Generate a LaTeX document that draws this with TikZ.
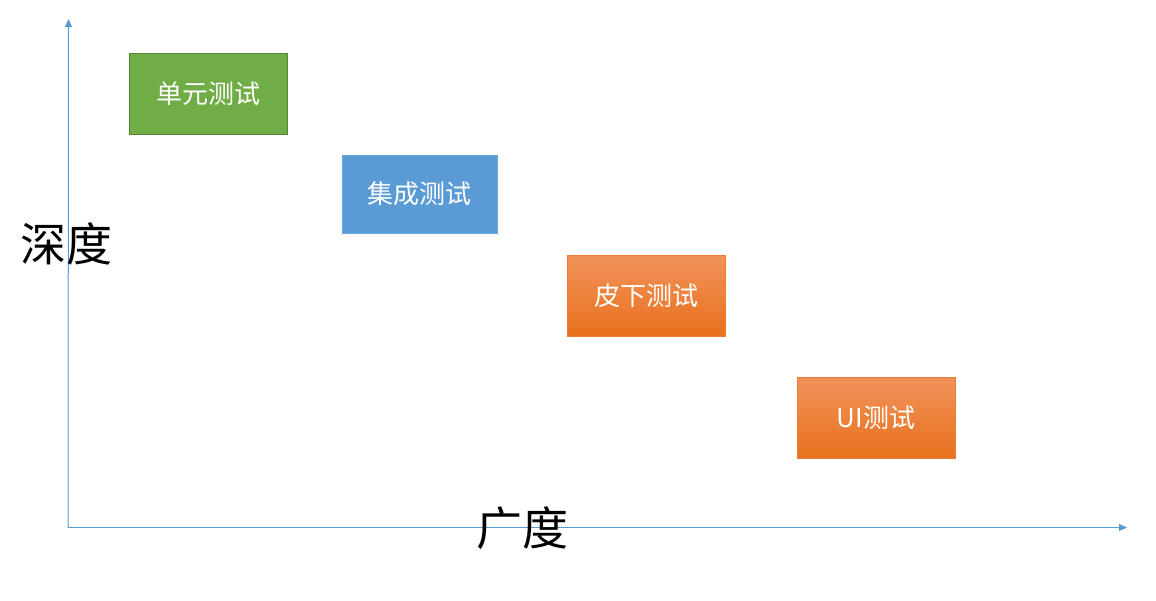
\documentclass[tikz,border=0pt]{standalone}
\usepackage{fontspec}
\newfontfamily\cjk{Noto Sans CJK SC}
\usetikzlibrary{arrows.meta}
\definecolor{axisblue}{HTML}{5B9BD5}
\definecolor{gfill}{HTML}{70AD47}
\definecolor{gborder}{HTML}{548235}
\definecolor{bfill}{HTML}{5B9BD5}
\definecolor{bborder}{HTML}{6FA8DC}
\definecolor{otop}{HTML}{F2935A}
\definecolor{obot}{HTML}{E8701D}
\definecolor{oborder}{HTML}{ED7D31}
\tikzset{
  box/.style={minimum width=158pt, minimum height=81pt, inner sep=0pt, text=white, font=\cjk\fontsize{26}{26}\selectfont, line width=0.8pt},
  greenbox/.style={box, fill=gfill, draw=gborder},
  bluebox/.style={box, fill=bfill, draw=bborder, minimum width=155pt, minimum height=78pt},
  orangebox/.style={box, top color=otop, bottom color=obot, draw=oborder},
  axis/.style={draw=axisblue, line width=1pt, -{Triangle[length=8pt,width=7pt]}},
  axlabel/.style={font=\cjk\fontsize{46}{46}\selectfont, inner sep=0pt}
}
\begin{document}
\begin{tikzpicture}[x=1pt,y=-1pt]
\useasboundingbox (0,0) rectangle (1156,600);
\coordinate (o) at (68,527.5);
\coordinate (ytop) at (68.5,19);
\coordinate (xend) at (1127,527.5);
\draw[axis] (o) -- (ytop);
\draw[axis] (o) -- (xend);
\node[axlabel] (depth) at (66,244) {深度};
\node[axlabel] (breadth) at (522,528) {广度};
\node[greenbox] (unit) at (208,94) {单元测试};
\node[bluebox] (integ) at (419.5,194) {集成测试};
\node[orangebox] (sub) at (646,296) {皮下测试};
\node[orangebox] (ui) at (876,418) {UI测试};
\end{tikzpicture}
\end{document}
